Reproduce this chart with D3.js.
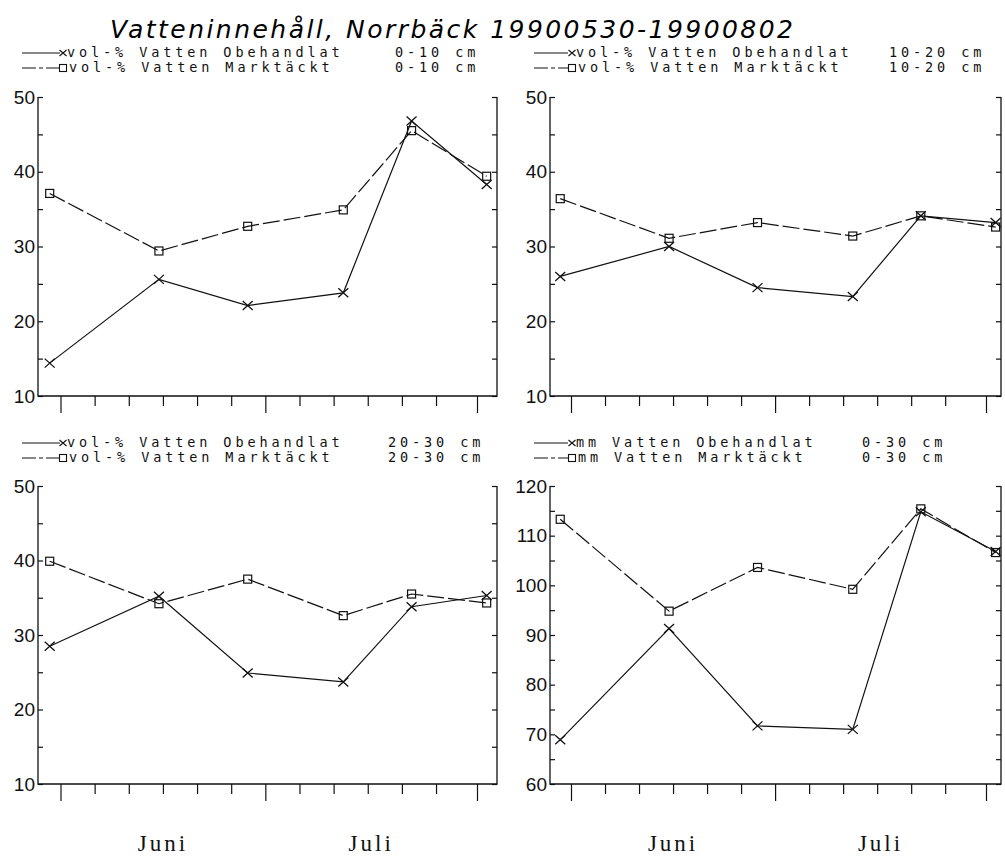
<!DOCTYPE html>
<html><head><meta charset="utf-8">
<script src="https://cdn.jsdelivr.net/npm/d3@7"></script>
<style>body{margin:0;background:#fff}svg{display:block}</style>
</head><body><svg id="c" width="1005" height="857"></svg>
<script>
// ---- data ----
const sampleDates = ["1990-05-30 10:00","1990-06-15 10:00","1990-06-28 10:00","1990-07-12 10:00","1990-07-22 10:00","1990-08-02 10:00"];
const obeh_0_10   = [14.4, 25.6, 22.1, 23.8, 46.8, 38.3];
const markt_0_10  = [37.1, 29.4, 32.7, 34.9, 45.5, 39.4];
const obeh_10_20  = [26.0, 30.0, 24.5, 23.3, 34.1, 33.2];
const markt_10_20 = [36.4, 31.1, 33.2, 31.4, 34.1, 32.6];
const obeh_20_30  = [28.5, 35.2, 24.9, 23.7, 33.8, 35.3];
const markt_20_30 = [39.9, 34.2, 37.5, 32.6, 35.5, 34.3];
const obeh_mm     = [68.9, 91.3, 71.7, 71.0, 114.8, 106.8];
const markt_mm    = [113.3, 94.8, 103.6, 99.2, 115.4, 106.6];
const volTicks = [10,15,20,25,30,35,40,45,50];
const mmTicks  = [60,65,70,75,80,85,90,95,100,105,110,115,120];
const axisDates = ["1990-06-01","1990-06-06","1990-06-11","1990-06-16","1990-06-21","1990-06-26",
                   "1990-07-01","1990-07-06","1990-07-11","1990-07-16","1990-07-21","1990-07-26","1990-08-01"];
const monthStarts = ["1990-06-01","1990-07-01","1990-08-01"];
const monthNames = ["Juni","Juli"];
const titleText = "Vatteninnehåll, Norrbäck 19900530-19900802";
const seriesObeh = ["vol-% Vatten Obehandlat","vol-% Vatten Obehandlat","vol-% Vatten Obehandlat","mm Vatten Obehandlat"];
const seriesMarkt = ["vol-% Vatten Marktäckt","vol-% Vatten Marktäckt","vol-% Vatten Marktäckt","mm Vatten Marktäckt"];
const depths = ["0-10 cm","10-20 cm","20-30 cm","0-30 cm"];

// ---- layout ----
const cols = [{x0:38,x1:497,t0:60.5,t1:477,lx0:22,lx1:60,mx:63,tx:67},
              {x0:550,x1:1001,t0:571,t1:986,lx0:534,lx1:568,mx:572,tx:576}];
const rows = [{y0:97,y1:396,lb:57},{y0:486,y1:784,lb:447}];
const depthX = [395, 889, 388, 862];

const pd = d3.utcParse("%Y-%m-%d %H:%M");
const pday = d3.utcParse("%Y-%m-%d");
const svg = d3.select("#c");

svg.append("text").attr("x",110).attr("y",38)
  .attr("font-family","DejaVu Sans, sans-serif").attr("font-style","italic").attr("font-weight",200)
  .attr("font-size",25).attr("textLength",683).attr("lengthAdjust","spacing")
  .text(titleText);

const panels = [
  {obeh:obeh_0_10, markt:markt_0_10, ticks:volTicks, c:0, r:0},
  {obeh:obeh_10_20, markt:markt_10_20, ticks:volTicks, c:1, r:0},
  {obeh:obeh_20_30, markt:markt_20_30, ticks:volTicks, c:0, r:1},
  {obeh:obeh_mm, markt:markt_mm, ticks:mmTicks, c:1, r:1}
];

const legendFont = {family:"DejaVu Sans Mono, monospace", size:13.5, ls:3.9};

panels.forEach((p,i) => {
  const C = cols[p.c], R = rows[p.r];
  const x = d3.scaleUtc().domain([pday(monthStarts[0]), pday(monthStarts[2])]).range([C.t0, C.t1]);
  const y = d3.scaleLinear().domain(d3.extent(p.ticks)).range([R.y1, R.y0]);
  const g = svg.append("g");

  // left axis
  const la = g.append("g").attr("transform",`translate(${C.x0},0)`)
    .call(d3.axisLeft(y).tickValues(p.ticks).tickSize(-5).tickSizeOuter(0).tickPadding(3)
      .tickFormat(d => d % 10 === 0 ? d : ""));
  la.select(".domain").remove();
  la.selectAll("text").attr("font-family","Liberation Sans, Arial, sans-serif").attr("font-size",19).attr("fill","#111");
  // right axis
  const ra = g.append("g").attr("transform",`translate(${C.x1},0)`)
    .call(d3.axisRight(y).tickValues(p.ticks).tickSize(-5).tickSizeOuter(0).tickFormat(""));
  ra.select(".domain").remove();
  // bottom axis
  const ba = g.append("g").attr("transform",`translate(0,${R.y1})`)
    .call(d3.axisBottom(x).tickValues(axisDates.map(pday)).tickSize(10).tickSizeOuter(0).tickFormat(""));
  ba.select(".domain").remove();
  const ms = new Set(monthStarts.map(s => +pday(s)));
  ba.selectAll(".tick line").filter(d => ms.has(+d)).attr("y2",17);
  g.selectAll(".tick line").attr("stroke","#111").attr("stroke-width",1.2);

  // frame
  g.append("path").attr("d",`M${C.x0},${R.y0}V${R.y1}H${C.x1}V${R.y0}`)
    .attr("fill","none").attr("stroke","#111").attr("stroke-width",1.3);

  const line = d3.line().x(d => x(d.t)).y(d => y(d.v));
  const dm = p.markt.map((v,k) => ({t:pd(sampleDates[k]), v}));
  const dob = p.obeh.map((v,k) => ({t:pd(sampleDates[k]), v}));

  g.append("path").datum(dm).attr("d",line).attr("fill","none").attr("stroke","#111")
    .attr("stroke-width",1.2).attr("stroke-dasharray","17,4");
  g.selectAll(".sq").data(dm).join("rect").attr("class","sq")
    .attr("x",d => x(d.t)-4).attr("y",d => y(d.v)-4).attr("width",8).attr("height",8)
    .attr("fill","none").attr("stroke","#111").attr("stroke-width",1.2);

  g.append("path").datum(dob).attr("d",line).attr("fill","none").attr("stroke","#111").attr("stroke-width",1.2);
  g.selectAll(".xm").data(dob).join("path").attr("class","xm")
    .attr("transform",d => `translate(${x(d.t)},${y(d.v)})`)
    .attr("d","M-5,-4.5L5,4.5M-5,4.5L5,-4.5").attr("fill","none").attr("stroke","#111").attr("stroke-width",1.3);

  // legend
  const lg = svg.append("g");
  [[seriesObeh[i], false], [seriesMarkt[i], true]].forEach(([lab, dashed], k) => {
    const by = R.lb + k*15, ly = by - 4;
    lg.append("line").attr("x1",C.lx0).attr("x2",C.lx1).attr("y1",ly).attr("y2",ly)
      .attr("stroke","#111").attr("stroke-width",1.1).attr("stroke-dasharray", dashed ? "14,3,4,3" : null);
    if (dashed) {
      lg.append("rect").attr("x",C.mx-3.5).attr("y",ly-3.5).attr("width",7).attr("height",7)
        .attr("fill","none").attr("stroke","#111").attr("stroke-width",1.1);
    } else {
      lg.append("path").attr("transform",`translate(${C.mx},${ly})`).attr("d","M-3.5,-3L3.5,3M-3.5,3L3.5,-3")
        .attr("stroke","#111").attr("stroke-width",1.1);
    }
    [[lab, C.tx + (dashed ? 2 : 0)], [depths[i], depthX[i]]].forEach(([t, tx]) => {
      lg.append("text").attr("x",tx).attr("y",by)
        .attr("font-family",legendFont.family).attr("font-size",legendFont.size)
        .attr("letter-spacing",legendFont.ls).attr("fill","#111").text(t);
    });
  });

  // month labels (bottom row)
  if (p.r === 1) {
    monthNames.forEach((m, k) => {
      const cx = (x(pday(monthStarts[k])) + x(pday(monthStarts[k+1]))) / 2;
      svg.append("text").attr("x",cx).attr("y",851).attr("text-anchor","middle")
        .attr("font-family","Liberation Serif, Times New Roman, serif").attr("font-size",23)
        .attr("letter-spacing",3).attr("fill","#111").text(m);
    });
  }
});
</script>
</body></html>
